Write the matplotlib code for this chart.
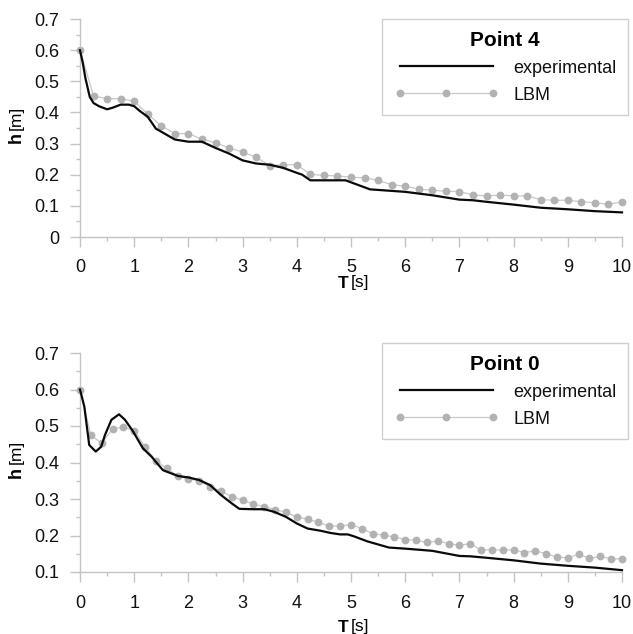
import numpy as np
import matplotlib
matplotlib.use("Agg")
import matplotlib.pyplot as plt
from matplotlib.lines import Line2D
from matplotlib.ticker import MultipleLocator

plt.rcParams['font.family'] = ['Liberation Sans', 'DejaVu Sans']

# ---------------- data ----------------
# Point 4
t_exp4 = [0, 0.05, 0.1, 0.18, 0.25, 0.35, 0.5, 0.6, 0.75, 0.9, 1.0, 1.1, 1.25, 1.4, 1.5,
          1.75, 2.0, 2.25, 2.5, 2.75, 3.0, 3.25, 3.5, 3.75, 4.0, 4.1, 4.25, 4.5, 4.9, 5.35,
          6.0, 6.5, 7.0, 7.25, 7.5, 8.0, 8.5, 9.0, 9.5, 10.0]
h_exp4 = [0.6, 0.56, 0.51, 0.45, 0.43, 0.42, 0.41, 0.415, 0.425, 0.425, 0.42, 0.405, 0.386,
          0.348, 0.338, 0.313, 0.306, 0.306, 0.286, 0.268, 0.246, 0.236, 0.232, 0.222, 0.206,
          0.2, 0.182, 0.182, 0.182, 0.153, 0.145, 0.134, 0.12, 0.118, 0.113, 0.104, 0.094,
          0.089, 0.083, 0.079]
t_lbm4 = np.linspace(0, 10, 41)
h_lbm4 = [0.6, 0.453, 0.444, 0.444, 0.436, 0.395, 0.357, 0.332, 0.332, 0.314, 0.303, 0.286,
          0.273, 0.256, 0.229, 0.232, 0.232, 0.201, 0.198, 0.196, 0.192, 0.190, 0.182, 0.168,
          0.163, 0.154, 0.150, 0.147, 0.146, 0.135, 0.132, 0.135, 0.132, 0.132, 0.120, 0.118,
          0.118, 0.113, 0.110, 0.105, 0.113]

# Point 0
t_exp0 = [0, 0.08, 0.17, 0.29, 0.39, 0.46, 0.58, 0.72, 0.83, 0.98, 1.16, 1.32, 1.53, 1.81,
          2.0, 2.2, 2.4, 2.6, 2.8, 2.94, 3.2, 3.4, 3.58, 3.8, 4.0, 4.2, 4.44, 4.62, 4.8, 4.94,
          5.05, 5.3, 5.7, 6.0, 6.5, 7.0, 7.2, 7.5, 8.0, 8.5, 9.0, 9.5, 10]
h_exp0 = [0.6, 0.553, 0.448, 0.43, 0.443, 0.475, 0.517, 0.532, 0.517, 0.485, 0.439, 0.416,
          0.379, 0.363, 0.359, 0.352, 0.338, 0.311, 0.288, 0.273, 0.272, 0.272, 0.265, 0.251,
          0.233, 0.219, 0.213, 0.207, 0.203, 0.203, 0.198, 0.184, 0.167, 0.164, 0.158, 0.144,
          0.143, 0.139, 0.132, 0.123, 0.117, 0.112, 0.105]
t_lbm0 = np.linspace(0, 10, 51)
h_lbm0 = [0.6, 0.475, 0.453, 0.492, 0.497, 0.487, 0.442, 0.405, 0.384, 0.363, 0.355, 0.350,
          0.334, 0.322, 0.306, 0.297, 0.286, 0.279, 0.271, 0.264, 0.251, 0.245, 0.236, 0.226,
          0.226, 0.230, 0.219, 0.205, 0.201, 0.196, 0.189, 0.187, 0.181, 0.185, 0.178, 0.173,
          0.178, 0.160, 0.161, 0.160, 0.161, 0.153, 0.158, 0.150, 0.141, 0.139, 0.149, 0.137,
          0.143, 0.136, 0.136]

panels = [
    dict(title="Point 4", te=t_exp4, he=h_exp4, tl=t_lbm4, hl=h_lbm4, ylim=(0, 0.7),
         yticks=[0, 0.1, 0.2, 0.3, 0.4, 0.5, 0.6, 0.7],
         yticklabels=["0", "0.1", "0.2", "0.3", "0.4", "0.5", "0.6", "0.7"],
         box_px=(80, 19, 622, 237), legend_px=(628, 19), xlab_off=46),
    dict(title="Point 0", te=t_exp0, he=h_exp0, tl=t_lbm0, hl=h_lbm0, ylim=(0.1, 0.7),
         yticks=[0.1, 0.2, 0.3, 0.4, 0.5, 0.6, 0.7],
         yticklabels=["0.1", "0.2", "0.3", "0.4", "0.5", "0.6", "0.7"],
         box_px=(80, 353, 622, 572), legend_px=(628, 343), xlab_off=55),
]
xticks = list(range(0, 11))

# ---------------- style ----------------
W, H = 633, 634
DPI = 100
AXC = '#c4c4c4'
LBMC = '#b2b2b2'
LBM_LINE = '#c8c8c8'
FS_TICK = 13
FS_LAB = 12.5
FS_LEG = 13
MS = 4.6

fig = plt.figure(figsize=(W / DPI, H / DPI), dpi=DPI, facecolor='white')


def fx(px):
    return px / W


def fy(py):
    return 1 - py / H


for p in panels:
    l, t, r, b = p['box_px']
    ax = fig.add_axes([fx(l), fy(b), fx(r) - fx(l), fy(t) - fy(b)])
    ax.set_facecolor('white')
    ax.plot(p['te'], p['he'], color='#0a0a0a', lw=1.6, zorder=3, clip_on=False)
    ax.plot(p['tl'], p['hl'], color=LBM_LINE, lw=0.9, marker='o', ms=MS,
            mfc=LBMC, mec=LBMC, zorder=2, clip_on=False)
    ax.set_xlim(0, 10)
    ax.set_ylim(*p['ylim'])
    ax.set_xticks(xticks)
    ax.set_xticklabels([str(v) for v in xticks])
    ax.set_yticks(p['yticks'])
    ax.set_yticklabels(p['yticklabels'])
    ax.xaxis.set_minor_locator(MultipleLocator(0.5))
    ax.yaxis.set_minor_locator(MultipleLocator(0.05))
    for s in ['top', 'right']:
        ax.spines[s].set_visible(False)
    for s in ['left', 'bottom']:
        ax.spines[s].set_color(AXC)
        ax.spines[s].set_linewidth(1.0)
    ax.tick_params(which='major', direction='out', length=7.2, width=1.0, color=AXC,
                   labelsize=FS_TICK, labelcolor='#111111')
    ax.tick_params(which='minor', direction='out', length=3.2, width=1.0, color=AXC)
    ax.tick_params(axis='x', which='major', pad=9)
    ax.tick_params(axis='y', which='major', pad=8)

    # axis labels: bold symbol + normal unit
    xl_y = fy(b + p['xlab_off'])
    fig.text(fx(349), xl_y, "T", fontsize=FS_LAB, fontweight='bold', ha='right', va='center')
    fig.text(fx(351), xl_y, "[s]", fontsize=FS_LAB, ha='left', va='center')
    split = (t + b) / 2 + 3
    fig.text(fx(16), fy(split + 1), "h", fontsize=FS_LAB + 0.5, fontweight='bold',
             rotation=90, ha='center', va='top')
    fig.text(fx(16), fy(split - 1), "[m]", fontsize=FS_LAB, rotation=90,
             ha='center', va='bottom')

    handles = [
        Line2D([], [], color='#0a0a0a', lw=1.6),
        Line2D([], [], color=LBM_LINE, lw=0.9, marker='o', ms=MS, mfc=LBMC, mec=LBMC),
    ]
    lx, ly = p['legend_px']
    leg = fig.legend(handles, ["experimental", "LBM"], loc='upper right',
                     bbox_to_anchor=(fx(lx), fy(ly)), bbox_transform=fig.transFigure,
                     borderaxespad=0, fancybox=False, frameon=True, fontsize=FS_LEG,
                     handlelength=5.75, handletextpad=0.83, numpoints=3, labelspacing=0.55,
                     borderpad=0.65, title=p['title'],
                     title_fontproperties={'size': 15, 'weight': 'bold'})
    leg.get_frame().set_edgecolor(AXC)
    leg.get_frame().set_linewidth(1.0)
    for txt in leg.get_texts():
        txt.set_color('#111111')

fig.savefig("out.png", dpi=DPI, facecolor='white')
